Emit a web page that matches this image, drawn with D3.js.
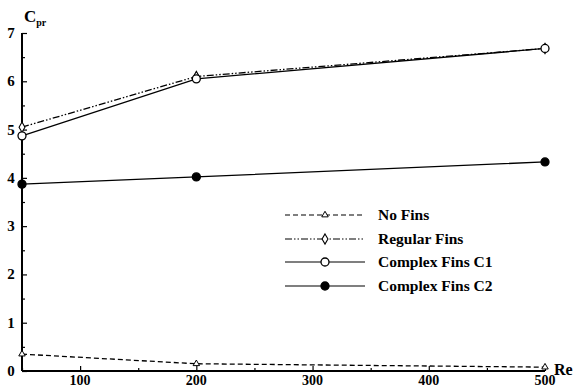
<!DOCTYPE html>
<html>
<head>
<meta charset="utf-8">
<script src="https://cdn.jsdelivr.net/npm/d3@7"></script>
<style>
  body { margin: 0; background: #fff; }
  svg text { font-family: "Liberation Serif", "Times New Roman", serif; font-weight: bold; fill: #000; }
</style>
</head>
<body>
<svg id="chart" width="574" height="389"></svg>
<script>
// Reynolds numbers sampled
const reValues = [50, 200, 500];
// Pressure coefficient per fin configuration
const noFins = [0.35, 0.15, 0.08];
const regularFins = [5.05, 6.1, 6.68];
const complexC1 = [4.87, 6.05, 6.68];
const complexC2 = [3.87, 4.02, 4.33];
const seriesNames = ["No Fins", "Regular Fins", "Complex Fins C1", "Complex Fins C2"];
const xTicks = [100, 200, 300, 400, 500];
const yTicks = [0, 1, 2, 3, 4, 5, 6, 7];

const svg = d3.select("#chart");
const x = d3.scaleLinear().domain([50, 500]).range([22, 545]);
const y = d3.scaleLinear().domain([0, 7]).range([371, 33]);

const series = [
  { name: seriesNames[0], values: noFins, dash: "5,3", marker: "triangle", fill: "#fff" },
  { name: seriesNames[1], values: regularFins, dash: "7,2,1.5,2,1.5,2", marker: "diamond", fill: "#fff" },
  { name: seriesNames[2], values: complexC1, dash: null, marker: "circle", fill: "#fff" },
  { name: seriesNames[3], values: complexC2, dash: null, marker: "circle", fill: "#000" }
];

// Axes with inward ticks
const xAxis = d3.axisTop(x).tickValues(d3.range(50, 501, 50)).tickSize(5).tickFormat("");
const gx = svg.append("g").attr("transform", `translate(0,${y(0)})`).call(xAxis);
gx.selectAll(".tick line").attr("y2", d => d % 100 === 0 ? -5 : -3);
gx.select(".domain").attr("d", `M${x(50)},0H${x(500)}`).attr("stroke-width", 2);

const yAxis = d3.axisRight(y).tickValues(d3.range(0, 7.01, 0.5)).tickSize(5).tickFormat("");
const gy = svg.append("g").attr("transform", `translate(${x(50)},0)`).call(yAxis);
gy.selectAll(".tick line").attr("x2", d => d % 1 === 0 ? 5 : 3);
gy.select(".domain").attr("d", `M0,${y(0)}V${y(7)}`).attr("stroke-width", 2);
svg.selectAll(".tick line").attr("stroke", "#000").attr("stroke-width", 1.2);

// Tick labels
svg.append("g").selectAll("text").data(xTicks).join("text")
  .attr("x", d => x(d)).attr("y", 385)
  .attr("text-anchor", "middle").attr("font-size", 14).text(d => d);
svg.append("g").selectAll("text").data(yTicks).join("text")
  .attr("x", 11).attr("y", d => y(d) + 5)
  .attr("text-anchor", "middle").attr("font-size", 15).text(d => d);

// Axis titles
const yTitle = svg.append("text").attr("x", 24).attr("y", 22).attr("font-size", 17);
yTitle.append("tspan").text("C");
yTitle.append("tspan").attr("font-size", 10).attr("dy", 4).text("pr");
svg.append("text").attr("x", 554).attr("y", 375).attr("font-size", 16).text("Re");

const line = d3.line().x((d, i) => x(reValues[i])).y(d => y(d));

function drawMarker(g, type, cx, cy, fill) {
  if (type === "circle") {
    g.append("circle").attr("cx", cx).attr("cy", cy).attr("r", 4)
      .attr("fill", fill).attr("stroke", "#000").attr("stroke-width", 1.3);
  } else if (type === "diamond") {
    g.append("path").attr("d", d3.symbol(d3.symbolDiamond, 30)())
      .attr("transform", `translate(${cx},${cy})`)
      .attr("fill", fill).attr("stroke", "#000").attr("stroke-width", 1.1);
  } else {
    g.append("path").attr("d", d3.symbol(d3.symbolTriangle, 18)())
      .attr("transform", `translate(${cx},${cy})`)
      .attr("fill", fill).attr("stroke", "#000").attr("stroke-width", 1);
  }
}

// Series lines and markers
series.forEach(s => {
  const g = svg.append("g");
  g.append("path").datum(s.values).attr("d", line)
    .attr("fill", "none").attr("stroke", "#000").attr("stroke-width", 1.3)
    .attr("stroke-dasharray", s.dash);
  s.values.forEach((v, i) => drawMarker(g, s.marker, x(reValues[i]), y(v), s.fill));
});

// Legend
const legendRows = [215, 239, 262, 286];
series.forEach((s, i) => {
  const g = svg.append("g");
  const ly = legendRows[i];
  g.append("line").attr("x1", 285).attr("x2", 365).attr("y1", ly).attr("y2", ly)
    .attr("stroke", "#000").attr("stroke-width", 1.2).attr("stroke-dasharray", s.dash);
  drawMarker(g, s.marker, 325, ly, s.fill);
  g.append("text").attr("x", 378).attr("y", ly + 5).attr("font-size", 15.5).text(s.name);
});
</script>
</body>
</html>
